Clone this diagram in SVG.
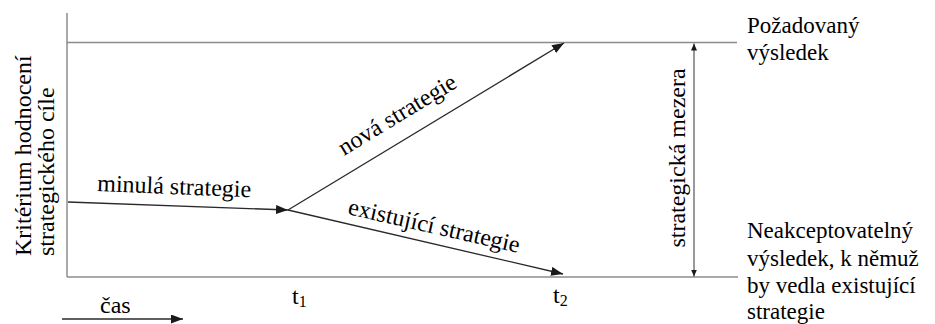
<svg xmlns="http://www.w3.org/2000/svg" width="935" height="324" viewBox="0 0 935 324">
<defs>
  <marker id="big" markerUnits="userSpaceOnUse" markerWidth="13" markerHeight="9" refX="12" refY="4.5" orient="auto">
    <path d="M0,0 L12,4.5 L0,9 z" fill="#1a1a1a"/>
  </marker>
  <marker id="small" markerUnits="userSpaceOnUse" markerWidth="8" markerHeight="6" refX="7" refY="3" orient="auto-start-reverse">
    <path d="M0,0 L7,3 L0,6 z" fill="#1a1a1a"/>
  </marker>
</defs>

<g id="frame" stroke="#8c8c8c" stroke-width="1.5" fill="none">
  <line x1="67" y1="13" x2="67" y2="277"/>
  <line x1="67" y1="42.5" x2="737" y2="42.5"/>
  <line x1="67" y1="277" x2="738" y2="277"/>
</g>

<g id="connectors" stroke="#2a2a2a" stroke-width="1.3" fill="none">
  <line id="e-minula" x1="68" y1="202" x2="288" y2="210" marker-end="url(#big)"/>
  <line id="e-nova" x1="288" y1="210" x2="564" y2="43" marker-end="url(#big)"/>
  <line id="e-existujici" x1="288" y1="210" x2="563" y2="274" marker-end="url(#big)"/>
  <line id="e-mezera" stroke="#555" stroke-width="1.2" x1="694" y1="43.5" x2="694" y2="276.5" marker-start="url(#small)" marker-end="url(#small)"/>
  <line id="e-cas" x1="62" y1="319" x2="183" y2="319" marker-end="url(#big)"/>
</g>

<g id="y-axis-label">
  <text font-family="Times New Roman, Liberation Serif, serif" font-size="24" transform="translate(31,256) rotate(-90)">Kritérium hodnocení</text>
  <text font-family="Times New Roman, Liberation Serif, serif" font-size="24" transform="translate(54,256) rotate(-90)">strategického cíle</text>
</g>

<g id="label-minula">
  <text font-family="Times New Roman, Liberation Serif, serif" font-size="24" transform="translate(97,191) rotate(2.3)">minulá strategie</text>
</g>
<g id="label-nova">
  <text font-family="Times New Roman, Liberation Serif, serif" font-size="24" transform="translate(344,156) rotate(-31.3)">nová strategie</text>
</g>
<g id="label-existujici">
  <text font-family="Times New Roman, Liberation Serif, serif" font-size="24" transform="translate(347,214) rotate(12.8)">existující strategie</text>
</g>
<g id="label-mezera">
  <text font-family="Times New Roman, Liberation Serif, serif" font-size="24" text-anchor="middle" transform="translate(685,158) rotate(-90)">strategická mezera</text>
</g>

<g id="t1">
  <text font-family="Times New Roman, Liberation Serif, serif" font-size="24" x="292" y="304">t<tspan font-size="16" dy="3">1</tspan></text>
</g>
<g id="t2">
  <text font-family="Times New Roman, Liberation Serif, serif" font-size="24" x="553" y="303">t<tspan font-size="16" dy="3">2</tspan></text>
</g>
<g id="cas">
  <text font-family="Times New Roman, Liberation Serif, serif" font-size="24" x="100" y="313">čas</text>
</g>

<g id="pozadovany">
  <text font-family="Times New Roman, Liberation Serif, serif" font-size="23" x="747" y="33">Požadovaný</text>
  <text font-family="Times New Roman, Liberation Serif, serif" font-size="23" x="747" y="60">výsledek</text>
</g>
<g id="neakceptovatelny">
  <text font-family="Times New Roman, Liberation Serif, serif" font-size="23" x="747" y="238">Neakceptovatelný</text>
  <text font-family="Times New Roman, Liberation Serif, serif" font-size="23" x="747" y="266">výsledek, k němuž</text>
  <text font-family="Times New Roman, Liberation Serif, serif" font-size="23" x="747" y="293">by vedla existující</text>
  <text font-family="Times New Roman, Liberation Serif, serif" font-size="23" x="747" y="319">strategie</text>
</g>
</svg>
